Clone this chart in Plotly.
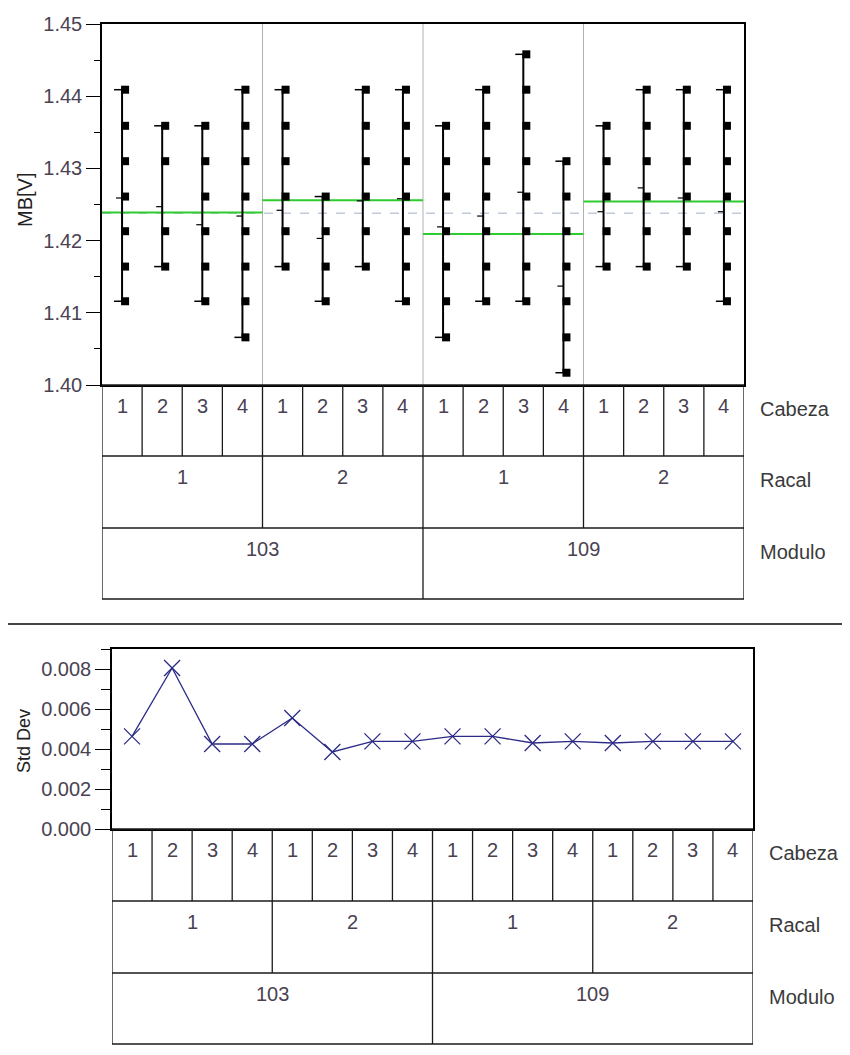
import plotly.graph_objects as go

W, H = 850, 1055
OFF = 8  # browser body margin in the written page

# ---------------- data ----------------
modulo_levels = ["103", "109"]
racal_levels = ["1", "2"]
cabeza_levels = ["1", "2", "3", "4"]

# distinct MB[V] readings observed in each cell (Modulo / Racal / Cabeza order)
mb_103_1 = [
    [1.4116, 1.4164, 1.4213, 1.4261, 1.4310, 1.4359, 1.4409],
    [1.4164, 1.4213, 1.4310, 1.4359],
    [1.4116, 1.4164, 1.4213, 1.4261, 1.4310, 1.4359],
    [1.4066, 1.4116, 1.4164, 1.4213, 1.4261, 1.4310, 1.4359, 1.4409],
]
mb_103_2 = [
    [1.4164, 1.4213, 1.4261, 1.4310, 1.4359, 1.4409],
    [1.4116, 1.4164, 1.4213, 1.4261],
    [1.4164, 1.4213, 1.4261, 1.4310, 1.4359, 1.4409],
    [1.4116, 1.4164, 1.4213, 1.4261, 1.4310, 1.4359, 1.4409],
]
mb_109_1 = [
    [1.4066, 1.4116, 1.4164, 1.4213, 1.4261, 1.4310, 1.4359],
    [1.4116, 1.4164, 1.4213, 1.4261, 1.4310, 1.4359, 1.4409],
    [1.4116, 1.4164, 1.4213, 1.4261, 1.4310, 1.4359, 1.4409, 1.4458],
    [1.4017, 1.4066, 1.4116, 1.4164, 1.4213, 1.4261, 1.4310],
]
mb_109_2 = [
    [1.4164, 1.4213, 1.4261, 1.4310, 1.4359],
    [1.4164, 1.4213, 1.4261, 1.4310, 1.4359, 1.4409],
    [1.4164, 1.4213, 1.4261, 1.4310, 1.4359, 1.4409],
    [1.4116, 1.4164, 1.4213, 1.4261, 1.4310, 1.4359, 1.4409],
]
mb_values = mb_103_1 + mb_103_2 + mb_109_1 + mb_109_2

cell_means = [1.4259, 1.4247, 1.4222, 1.4234,
              1.4242, 1.4203, 1.4255, 1.4258,
              1.4219, 1.4234, 1.4267, 1.4137,
              1.4240, 1.4273, 1.4259, 1.4240]
racal_means = [1.4239, 1.4256, 1.4209, 1.4254]
grand_mean = 1.4238

std_dev = [0.00463, 0.00805, 0.00425, 0.00425,
           0.00555, 0.00385, 0.00438, 0.00438,
           0.00463, 0.00463, 0.00430, 0.00438,
           0.00430, 0.00438, 0.00438, 0.00438]

# ---------------- helpers ----------------
FONT = "Liberation Sans, Arial, sans-serif"
TXT = "#4a4252"
FS = 20
n_cab, n_rac, n_mod = len(cabeza_levels), len(racal_levels), len(modulo_levels)
n_cells = n_cab * n_rac * n_mod
cells = list(range(n_cells))


def X(p):
    return (p - OFF) / W


def Y(p):
    return 1 - (p - OFF) / H


fig = go.Figure()

# ---------------- top panel: variability chart ----------------
xr = [-0.5, n_cells - 0.5]
fig.add_trace(go.Scatter(x=xr, y=[grand_mean, grand_mean], mode="lines",
                         line=dict(color="#9fb0c8", width=1, dash="dash"),
                         hoverinfo="skip", showlegend=False))
gx, gy = [], []
for g, m in enumerate(racal_means):
    gx += [g * n_cab - 0.5, g * n_cab + n_cab - 0.5, None]
    gy += [m, m, None]
fig.add_trace(go.Scatter(x=gx, y=gy, mode="lines",
                         line=dict(color="#2ecc2e", width=2),
                         hoverinfo="skip", showlegend=False))

vx, vy, cx, cy, mx, my, sx, sy = [], [], [], [], [], [], [], []
for i, vals in zip(cells, mb_values):
    lo, hi = min(vals), max(vals)
    vx += [i, i, None]
    vy += [lo, hi, None]
    for v in (lo, hi):
        cx += [i - 0.2, i, None]
        cy += [v, v, None]
    for v in vals:
        sx.append(i + 0.075)
        sy.append(v)
for i, m in zip(cells, cell_means):
    mx += [i - 0.15, i, None]
    my += [m, m, None]

fig.add_trace(go.Scatter(x=vx, y=vy, mode="lines", line=dict(color="black", width=2),
                         hoverinfo="skip", showlegend=False))
fig.add_trace(go.Scatter(x=cx, y=cy, mode="lines", line=dict(color="black", width=1.5),
                         hoverinfo="skip", showlegend=False))
fig.add_trace(go.Scatter(x=mx, y=my, mode="lines", line=dict(color="black", width=1.2),
                         hoverinfo="skip", showlegend=False))
fig.add_trace(go.Scatter(x=sx, y=sy, mode="markers",
                         marker=dict(symbol="square", size=8, color="black"),
                         showlegend=False))

# ---------------- bottom panel: std dev ----------------
fig.add_trace(go.Scatter(x=cells, y=std_dev, mode="lines+markers", xaxis="x2", yaxis="y2",
                         line=dict(color="#2b2a86", width=1.3),
                         marker=dict(symbol="x-thin", size=16,
                                     line=dict(color="#2b2a86", width=1.3)),
                         showlegend=False))

shapes = []
annotations = []

# group separators in the top plot
for k in range(1, n_mod * n_rac):
    shapes.append(dict(type="line", xref="x", yref="y", x0=k * n_cab - 0.5, x1=k * n_cab - 0.5,
                       y0=1.40, y1=1.45, line=dict(color="#b0b0b0", width=1), layer="below"))


def note(x, y, text, xref="paper", font=None, xanchor="center", angle=0):
    annotations.append(dict(x=x, y=y, xref=xref, yref="paper", text=text, showarrow=False,
                            xanchor=xanchor, yanchor="middle", textangle=angle, font=font))


def add_table(xref, rows, label_x):
    lc = dict(color="#1a1a1a", width=1.3)
    for r in rows:
        shapes.append(dict(type="line", xref=xref, yref="paper", x0=-0.5, x1=n_cells - 0.5,
                           y0=Y(r), y1=Y(r), line=lc))
    for k in range(n_cells + 1):
        shapes.append(dict(type="line", xref=xref, yref="paper", x0=k - 0.5, x1=k - 0.5,
                           y0=Y(rows[0]), y1=Y(rows[1]), line=lc))
    for k in range(n_mod * n_rac + 1):
        shapes.append(dict(type="line", xref=xref, yref="paper", x0=k * n_cab - 0.5,
                           x1=k * n_cab - 0.5, y0=Y(rows[1]), y1=Y(rows[2]), line=lc))
    for k in range(n_mod + 1):
        shapes.append(dict(type="line", xref=xref, yref="paper", x0=k * n_cab * n_rac - 0.5,
                           x1=k * n_cab * n_rac - 0.5, y0=Y(rows[2]), y1=Y(rows[3]), line=lc))
    f = dict(family=FONT, size=FS, color=TXT)
    for i in cells:
        note(i, Y(rows[0] + 21), cabeza_levels[i % n_cab], xref=xref, font=f)
    for g in range(n_mod * n_rac):
        note(g * n_cab + (n_cab - 1) / 2, Y(rows[1] + 21), racal_levels[g % n_rac], xref=xref, font=f)
    for m in range(n_mod):
        note(m * n_cab * n_rac + (n_cab * n_rac - 1) / 2, Y(rows[2] + 21), modulo_levels[m],
             xref=xref, font=f)
    f2 = dict(family=FONT, size=FS, color="#3a3a3a")
    for r, name in zip(rows[:3], ["Cabeza", "Racal", "Modulo"]):
        note(X(label_x), Y(r + 24), name, font=f2, xanchor="left")


add_table("x", [385, 456, 528, 599], 758)
add_table("x2", [829, 901, 973, 1044], 767)

# separator between the two reports
shapes.append(dict(type="line", xref="paper", yref="paper", x0=X(8), x1=X(850), y0=Y(624), y1=Y(624),
                   line=dict(color="#444444", width=2)))

# axis titles
note(X(25), Y(200), "MB[V]", font=dict(family=FONT, size=FS, color="#222"), angle=-90)
note(X(24), Y(741), "Std Dev", font=dict(family=FONT, size=18, color="#222"), angle=-90)

tickfont = dict(family=FONT, size=FS, color=TXT)
fig.update_layout(
    template="none",
    width=W, height=H, margin=dict(l=0, r=0, t=0, b=0, pad=0),
    paper_bgcolor="white", plot_bgcolor="white", showlegend=False,
    shapes=shapes, annotations=annotations,
    xaxis=dict(domain=[X(102), X(744)], range=xr, showgrid=False, zeroline=False,
               showticklabels=False, ticks="", showline=True, mirror=True, automargin=False,
               linecolor="black", linewidth=1.5, anchor="y"),
    yaxis=dict(domain=[Y(385), Y(24)], range=[1.40, 1.45], dtick=0.01, tick0=1.40,
               tickformat=".2f", showgrid=False, zeroline=False, ticks="outside", ticklen=14,
               tickwidth=1.3, tickcolor="black", showline=True, mirror=True, linecolor="black",
               linewidth=1.5, tickfont=tickfont, anchor="x", automargin=False,
               minor=dict(dtick=0.005, tick0=1.40, ticks="outside", ticklen=6, tickcolor="black",
                          showgrid=False)),
    xaxis2=dict(domain=[X(112), X(753)], range=xr, showgrid=False, zeroline=False,
                showticklabels=False, ticks="", showline=True, mirror=True, automargin=False,
                linecolor="black", linewidth=1.5, anchor="y2"),
    yaxis2=dict(domain=[Y(829), Y(649)], range=[0, 0.009], dtick=0.002, tick0=0,
                tickformat=".3f", showgrid=False, zeroline=False, ticks="outside", ticklen=15,
                tickwidth=1.3, tickcolor="black", showline=True, mirror=True, linecolor="black",
                linewidth=1.5, tickfont=tickfont, anchor="x2", automargin=False,
                minor=dict(dtick=0.001, tick0=0, ticks="outside", ticklen=9, tickcolor="black",
                           showgrid=False)),
)

fig.write_html("out.html")
